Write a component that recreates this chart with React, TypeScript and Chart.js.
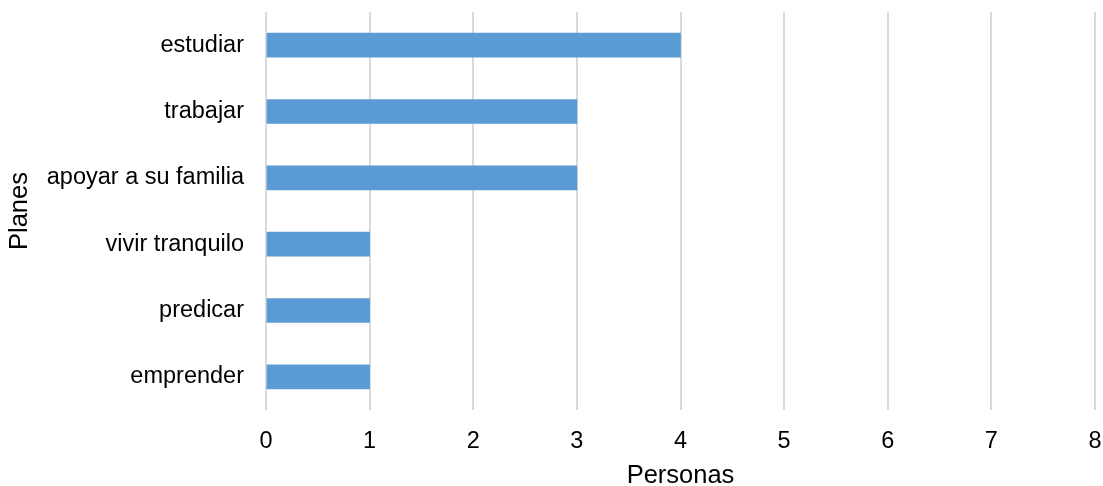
import React, { useEffect, useRef } from "react";
import { Chart, registerables } from "chart.js";

Chart.register(...registerables);

const categories = ["estudiar", "trabajar", "apoyar a su familia", "vivir tranquilo", "predicar", "emprender"];
const personas = [4, 3, 3, 1, 1, 1];
const xTitle = "Personas";
const yTitle = "Planes";
const xMin = 0;
const xMax = 8;

const FONT = "'Liberation Sans', Arial, sans-serif";

export default function App() {
  const ref = useRef<HTMLCanvasElement | null>(null);

  useEffect(() => {
    if (!ref.current) return;
    const chart = new Chart(ref.current, {
      type: "bar",
      data: {
        labels: categories,
        datasets: [
          {
            label: xTitle,
            data: personas,
            backgroundColor: "#5B9BD5",
            borderWidth: 0,
            barThickness: 24,
          },
        ],
      },
      options: {
        indexAxis: "y",
        animation: false,
        responsive: false,
        devicePixelRatio: 1,
        layout: { padding: { top: 12, right: 8, left: 0, bottom: 0 } },
        plugins: {
          legend: { display: false },
          tooltip: { enabled: false },
        },
        scales: {
          x: {
            min: xMin,
            max: xMax,
            ticks: {
              stepSize: 1,
              color: "#000",
              padding: 17,
              font: { family: FONT, size: 23.5 },
            },
            grid: { color: "#D9D9D9", lineWidth: 2, drawTicks: false },
            border: { display: false },
            title: {
              display: true,
              text: xTitle,
              color: "#000",
              padding: { top: 0, bottom: 0 },
              font: { family: FONT, size: 25.5, lineHeight: 0.8 },
            },
            afterFit: (scale: any) => {
              scale.height = 76;
              scale.paddingLeft = 0;
              scale.paddingRight = 0;
            },
          },
          y: {
            ticks: {
              color: "#000",
              padding: 22,
              font: { family: FONT, size: 23.5 },
            },
            grid: { display: false, drawTicks: false },
            border: { display: false },
            title: {
              display: true,
              text: yTitle,
              color: "#000",
              padding: { top: 5, bottom: 0 },
              font: { family: FONT, size: 25.5 },
            },
            afterFit: (scale: any) => {
              scale.width = 266;
              scale.paddingTop = 0;
              scale.paddingBottom = 0;
            },
          },
        },
      },
    });
    return () => chart.destroy();
  }, []);

  return (
    <div style={{ position: "absolute", left: 0, top: 0, width: 1103, height: 486, background: "#fff" }}>
      <canvas ref={ref} width={1103} height={486} style={{ display: "block" }} />
    </div>
  );
}
